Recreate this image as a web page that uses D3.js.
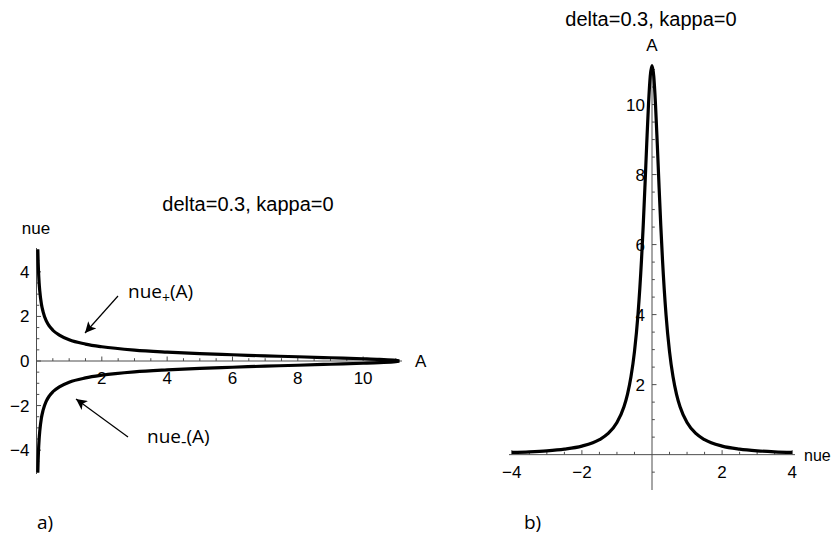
<!DOCTYPE html>
<html>
<head>
<meta charset="utf-8">
<script src="https://cdn.jsdelivr.net/npm/d3@7"></script>
<style>
  html, body { margin: 0; padding: 0; background: #fff; }
  svg { display: block; }
</style>
</head>
<body>
<svg id="chart" width="832" height="538"></svg>
<script>
// ---------- data ----------
const titleText = "delta=0.3, kappa=0";

// panel a) : nue_+(A) and nue_-(A)
const aValues   = [0.04, 0.05, 0.06, 0.08, 0.1, 0.15, 0.2, 0.3, 0.4, 0.5, 0.7, 1, 1.5, 2, 3, 4, 5, 6, 7, 8, 9, 10, 10.5, 11, 11.11];
const nuePlus   = [4.99, 4.46, 4.07, 3.52, 3.15, 2.56, 2.22, 1.80, 1.55, 1.38, 1.16, 0.95, 0.76, 0.64, 0.49, 0.40, 0.33, 0.28, 0.23, 0.19, 0.145, 0.10, 0.072, 0.03, 0];
const nueMinus  = [-4.99, -4.46, -4.07, -3.52, -3.15, -2.56, -2.22, -1.80, -1.55, -1.38, -1.16, -0.95, -0.76, -0.64, -0.49, -0.40, -0.33, -0.28, -0.23, -0.19, -0.145, -0.10, -0.072, -0.03, 0];
const aXTicks   = [2, 4, 6, 8, 10];
const aYTicks   = [-4, -2, 0, 2, 4];

// panel b) : A(nue)
const nueValues = [-4, -3.5, -3, -2.5, -2, -1.5, -1.25, -1, -0.8, -0.7, -0.6, -0.5, -0.4, -0.3, -0.25, -0.2, -0.15, -0.1, -0.05, 0,
                   0.05, 0.1, 0.15, 0.2, 0.25, 0.3, 0.4, 0.5, 0.6, 0.7, 0.8, 1, 1.25, 1.5, 2, 2.5, 3, 3.5, 4];
const aOfNue    = [0.062, 0.081, 0.110, 0.158, 0.244, 0.427, 0.605, 0.917, 1.370, 1.724, 2.222, 2.941, 4.0, 5.556, 6.557, 7.692, 8.889, 10.0, 10.81, 11.11,
                   10.81, 10.0, 8.889, 7.692, 6.557, 5.556, 4.0, 2.941, 2.222, 1.724, 1.370, 0.917, 0.605, 0.427, 0.244, 0.158, 0.110, 0.081, 0.062];
const bXTicks   = [-4, -2, 2, 4];
const bYTicks   = [2, 4, 6, 8, 10];

// ---------- drawing ----------
const svg = d3.select("#chart");
const AXIS = "#4d4d4d";
const TICKFONT = "'Liberation Sans', Arial, sans-serif";
const NOTEFONT = "'Open Sans', 'Noto Sans', sans-serif";
const TICKSIZE = 17;

function minorTicks(lo, hi, step, majors) {
  return d3.range(Math.ceil(lo / step) * step, hi + 1e-9, step)
    .filter(v => !majors.some(m => Math.abs(m - v) < 1e-9) && Math.abs(v) > 1e-9);
}

function drawAxes(g, x, y, xMaj, yMaj, xMin, yMin) {
  const x0 = x(0), y0 = y(0);
  const [xa, xb] = x.range();
  const [ya, yb] = y.range();
  g.append("line").attr("x1", xa).attr("x2", xb).attr("y1", y0).attr("y2", y0)
    .attr("stroke", AXIS).attr("stroke-width", 1);
  g.append("line").attr("x1", x0).attr("x2", x0).attr("y1", ya).attr("y2", yb)
    .attr("stroke", AXIS).attr("stroke-width", 1);
  // x ticks (pointing up)
  g.selectAll(null).data(xMaj.concat(xMin)).enter().append("line")
    .attr("x1", d => x(d)).attr("x2", d => x(d))
    .attr("y1", y0).attr("y2", d => y0 - (xMaj.includes(d) ? 4.5 : 2.8))
    .attr("stroke", AXIS).attr("stroke-width", 1);
  // y ticks (pointing right)
  g.selectAll(null).data(yMaj.concat(yMin)).enter().append("line")
    .attr("y1", d => y(d)).attr("y2", d => y(d))
    .attr("x1", x0).attr("x2", d => x0 + (yMaj.includes(d) ? 4.5 : 2.8))
    .attr("stroke", AXIS).attr("stroke-width", 1);
  // labels
  g.selectAll(null).data(xMaj).enter().append("text")
    .attr("x", d => x(d)).attr("y", y0 + 23)
    .attr("text-anchor", "middle")
    .attr("font-family", TICKFONT).attr("font-size", TICKSIZE).attr("fill", "#000")
    .text(d => d < 0 ? "\u2212" + Math.abs(d) : d);
  g.selectAll(null).data(yMaj).enter().append("text")
    .attr("x", x0 - 7).attr("y", d => y(d) + 6)
    .attr("text-anchor", "end")
    .attr("font-family", TICKFONT).attr("font-size", TICKSIZE).attr("fill", "#000")
    .text(d => d < 0 ? "\u2212" + Math.abs(d) : d);
}

// ----- panel a -----
{
  const x = d3.scaleLinear().domain([0, 11.19]).range([36.5, 402]);
  const y = d3.scaleLinear().domain([-5.07, 5.07]).range([474, 248]);
  const g = svg.append("g");
  drawAxes(g, x, y, aXTicks, aYTicks,
    minorTicks(0.5, 11, 0.5, aXTicks), minorTicks(-5, 5, 0.5, aYTicks));

  const line = d3.line().x(d => x(d[0])).y(d => y(d[1])).curve(d3.curveMonotoneX);
  [nuePlus, nueMinus].forEach(series => {
    g.append("path").datum(aValues.map((a, i) => [a, series[i]]))
      .attr("d", line).attr("fill", "none").attr("stroke", "#000")
      .attr("stroke-width", 3.2).attr("stroke-linejoin", "round");
  });

  g.append("text").attr("x", 248).attr("y", 211).attr("text-anchor", "middle")
    .attr("font-family", TICKFONT).attr("font-size", 20).text(titleText);
  g.append("text").attr("x", 36).attr("y", 234).attr("text-anchor", "middle")
    .attr("font-family", TICKFONT).attr("font-size", 17).text("nue");
  g.append("text").attr("x", 415).attr("y", 367)
    .attr("font-family", TICKFONT).attr("font-size", 17).text("A");

  // annotations
  const defs = svg.append("defs");
  defs.append("marker").attr("id", "arrow").attr("viewBox", "0 0 10 10")
    .attr("refX", 10).attr("refY", 5).attr("markerWidth", 11).attr("markerHeight", 11)
    .attr("markerUnits", "userSpaceOnUse").attr("orient", "auto")
    .append("path").attr("d", "M0,0 L10,5 L0,10 L2.5,5 Z").attr("fill", "#000");

  g.append("line").attr("x1", 118).attr("y1", 296).attr("x2", 85).attr("y2", 333)
    .attr("stroke", "#000").attr("stroke-width", 1.2).attr("marker-end", "url(#arrow)");
  g.append("line").attr("x1", 128).attr("y1", 437).attr("x2", 76).attr("y2", 399)
    .attr("stroke", "#000").attr("stroke-width", 1.2).attr("marker-end", "url(#arrow)");

  const t1 = g.append("text").attr("x", 128).attr("y", 298)
    .attr("font-family", NOTEFONT).attr("font-size", 19);
  t1.append("tspan").text("nue");
  t1.append("tspan").attr("dy", 5).attr("font-size", 14).text("+");
  t1.append("tspan").attr("dy", -5).text("(A)");

  const t2 = g.append("text").attr("x", 147).attr("y", 443)
    .attr("font-family", NOTEFONT).attr("font-size", 19);
  t2.append("tspan").text("nue");
  t2.append("tspan").attr("dy", 4).attr("font-size", 17).text("-");
  t2.append("tspan").attr("dy", -4).text("(A)");

  g.append("text").attr("x", 37).attr("y", 529)
    .attr("font-family", NOTEFONT).attr("font-size", 19).text("a)");
}

// ----- panel b -----
{
  const x = d3.scaleLinear().domain([-4.08, 4.08]).range([509, 795]);
  const y = d3.scaleLinear().domain([-1.01, 11.13]).range([490, 65]);
  const g = svg.append("g");
  drawAxes(g, x, y, bXTicks, bYTicks,
    minorTicks(-4, 4, 0.5, bXTicks.concat([0])), minorTicks(-0.5, 11, 0.5, bYTicks));

  const line = d3.line().x(d => x(d[0])).y(d => y(d[1])).curve(d3.curveMonotoneX);
  g.append("path").datum(nueValues.map((n, i) => [n, aOfNue[i]]))
    .attr("d", line).attr("fill", "none").attr("stroke", "#000")
    .attr("stroke-width", 3.2).attr("stroke-linejoin", "round");

  g.append("text").attr("x", 651).attr("y", 26).attr("text-anchor", "middle")
    .attr("font-family", TICKFONT).attr("font-size", 20).text(titleText);
  g.append("text").attr("x", 652).attr("y", 51).attr("text-anchor", "middle")
    .attr("font-family", TICKFONT).attr("font-size", 17).text("A");
  g.append("text").attr("x", 804).attr("y", 461)
    .attr("font-family", TICKFONT).attr("font-size", 16).text("nue");

  g.append("text").attr("x", 524).attr("y", 529)
    .attr("font-family", NOTEFONT).attr("font-size", 19).text("b)");
}
</script>
</body>
</html>
